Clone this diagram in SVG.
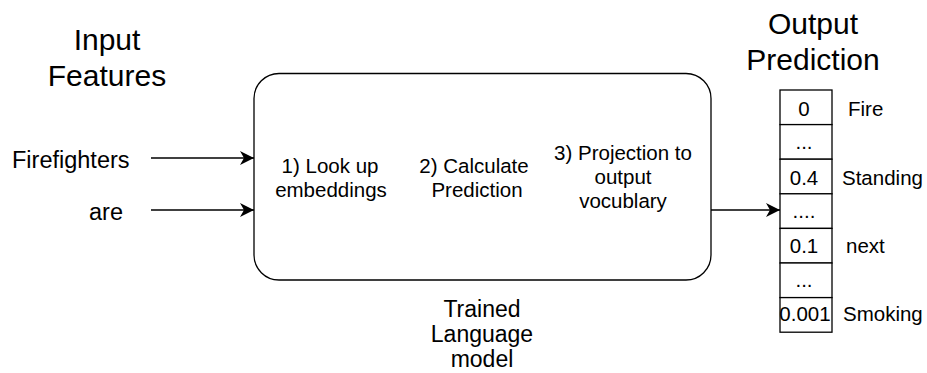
<svg xmlns="http://www.w3.org/2000/svg" width="927" height="373" viewBox="0 0 927 373">
  <style>
    text { font-family: "Liberation Sans", Arial, sans-serif; fill: #000; }
    .title { font-size: 30px; text-anchor: middle; }
    .lbl { font-size: 23.5px; }
    .inner { font-size: 20.5px; text-anchor: middle; }
    .caption { font-size: 23px; text-anchor: middle; }
    .cell { fill: #fff; stroke: #000; stroke-width: 1.3; }
    .val { font-size: 20.5px; text-anchor: middle; }
    .word { font-size: 20.5px; }
    .edge { stroke: #000; stroke-width: 1.3; fill: none; marker-end: url(#arrow); }
  </style>
  <defs>
    <marker id="arrow" viewBox="0 0 14 14" refX="14" refY="7" markerWidth="14" markerHeight="14" markerUnits="userSpaceOnUse" orient="auto">
      <path d="M0,0 L14,7 L0,14 L4,7 Z" fill="#000"/>
    </marker>
  </defs>
  <rect width="927" height="373" fill="#fff"/>

  <g id="input-title">
    <text class="title" x="107" y="50">Input</text>
    <text class="title" x="107" y="86">Features</text>
  </g>

  <g id="input-firefighters">
    <text class="lbl" x="12" y="168">Firefighters</text>
  </g>
  <g id="input-are">
    <text class="lbl" x="89" y="220">are</text>
  </g>

  <g id="model">
    <rect x="254" y="73.5" width="457" height="206.5" rx="25" ry="25" fill="#fff" stroke="#000" stroke-width="1.3"/>
    <text class="inner" x="330" y="173">1) Look up</text>
    <text class="inner" x="331" y="197">embeddings</text>
    <text class="inner" x="474" y="173">2) Calculate</text>
    <text class="inner" x="477" y="197">Prediction</text>
    <text class="inner" x="623" y="160">3) Projection to</text>
    <text class="inner" x="623" y="184">output</text>
    <text class="inner" x="623" y="208">vocublary</text>
  </g>

  <g id="model-caption">
    <text class="caption" x="482" y="317">Trained</text>
    <text class="caption" x="482" y="342">Language</text>
    <text class="caption" x="482" y="367">model</text>
  </g>

  <g id="output-title">
    <text class="title" x="813" y="34">Output</text>
    <text class="title" x="813" y="70">Prediction</text>
  </g>

  <g id="output-vector">
    <rect class="cell" x="780" y="90" width="52" height="34.6"/>
    <rect class="cell" x="780" y="124.6" width="52" height="34.6"/>
    <rect class="cell" x="780" y="159.2" width="52" height="34.6"/>
    <rect class="cell" x="780" y="193.8" width="52" height="34.6"/>
    <rect class="cell" x="780" y="228.4" width="52" height="34.6"/>
    <rect class="cell" x="780" y="263" width="52" height="34.6"/>
    <rect class="cell" x="780" y="297.6" width="52" height="34.6"/>
    <text class="val" x="804" y="116">0</text>
    <text class="val" x="804" y="149">...</text>
    <text class="val" x="804" y="185">0.4</text>
    <text class="val" x="804" y="218">....</text>
    <text class="val" x="804" y="253">0.1</text>
    <text class="val" x="804" y="287">...</text>
    <text class="val" x="805" y="321">0.001</text>
    <text class="word" x="848" y="116">Fire</text>
    <text class="word" x="842" y="185">Standing</text>
    <text class="word" x="846" y="253">next</text>
    <text class="word" x="843" y="321">Smoking</text>
  </g>

  <g id="connectors">
    <line class="edge" x1="151" y1="158" x2="254" y2="158"/>
    <line class="edge" x1="151" y1="210" x2="254" y2="210"/>
    <line class="edge" x1="711" y1="210" x2="780" y2="210"/>
  </g>
</svg>
